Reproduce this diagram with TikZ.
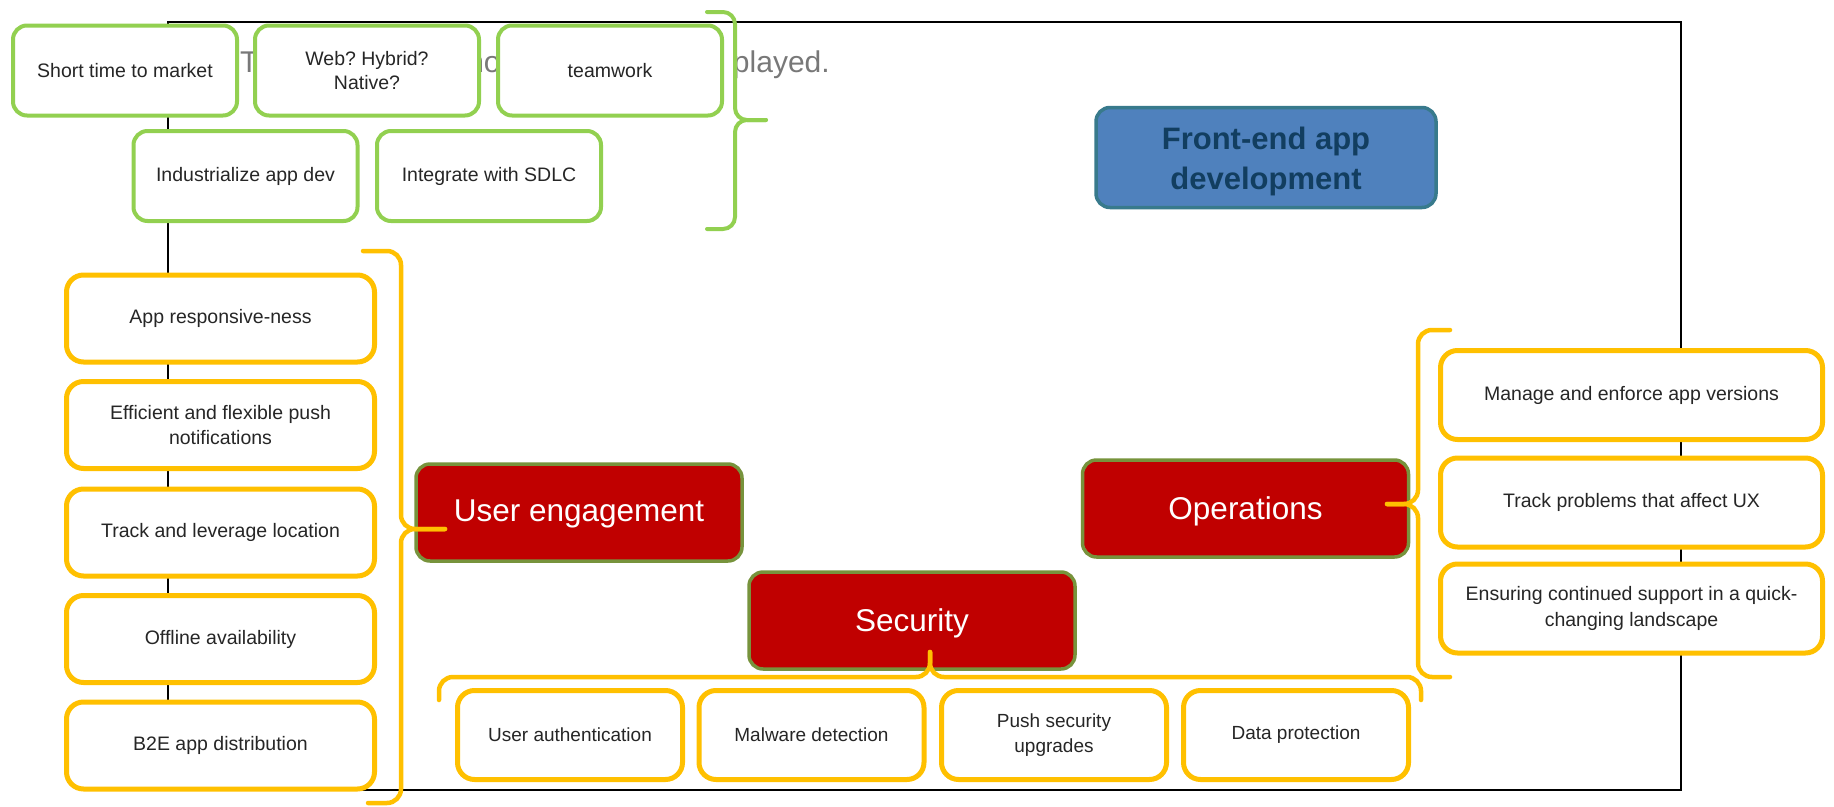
\documentclass[tikz,border=0pt]{standalone}
\usepackage{fontspec}
\setmainfont{Liberation Sans}
\frenchspacing
\definecolor{ggreen}{RGB}{146,208,80}
\definecolor{gold}{RGB}{255,192,0}
\definecolor{dred}{RGB}{192,0,0}
\definecolor{olive}{RGB}{119,147,60}
\definecolor{bfill}{RGB}{79,129,189}
\definecolor{bline}{RGB}{56,122,140}
\definecolor{btext}{RGB}{18,62,96}
\definecolor{txt}{RGB}{38,38,38}
\definecolor{ttl}{RGB}{120,120,120}
\tikzset{
 gbox/.style={draw=ggreen, line width=4pt, rounded corners=14pt, fill=white, minimum width=224pt, minimum height=90pt, align=center, text=txt, font=\fontsize{19.5}{24}\selectfont, inner sep=2pt},
 ybox/.style={draw=gold, line width=5pt, rounded corners=17pt, fill=white, align=center, text=txt, font=\fontsize{19.5}{25.5}\selectfont, inner sep=2pt},
 lbox/.style={ybox, minimum width=308pt, minimum height=87pt},
 rbox/.style={ybox, minimum width=382pt, minimum height=89pt},
 sbox/.style={ybox, minimum width=225pt, minimum height=89pt, font=\fontsize{19}{24.5}\selectfont},
 redbox/.style={draw=olive, line width=3.5pt, rounded corners=14pt, fill=dred, text=white, minimum width=326pt, minimum height=97pt, font=\fontsize{31.5}{36}\selectfont, inner sep=2pt},
 bluebox/.style={draw=bline, line width=3.5pt, rounded corners=14pt, fill=bfill, text=btext, minimum width=340pt, minimum height=100pt, font=\bfseries\fontsize{31}{40}\selectfont, inner sep=2pt},
 gbrace/.style={draw=ggreen, line width=4pt, rounded corners=12pt, line cap=round},
 ybrace/.style={draw=gold, line width=4.5pt, rounded corners=14pt, line cap=round},
}
\begin{document}
\begin{tikzpicture}[x=1pt,y=-1pt]
\useasboundingbox (0,0) rectangle (1834,806);
% frame
\draw[line width=2.5pt] (168,22) rectangle (1681,790);
\node[anchor=base west, text=ttl, font=\fontsize{30}{36}\selectfont, inner sep=0pt] (title) at (240,72) {\spaceskip=25.2pt This video cannot currently be played.};
% green boxes
\node[gbox] (stm) at (125,70.5) {Short time to market};
\node[gbox] (web) at (367,70.5) {Web? Hybrid?\\Native?};
\node[gbox] (team) at (610,70.5) {teamwork};
\node[gbox] (ind) at (245.5,176) {Industrialize app dev};
\node[gbox] (sdlc) at (489,176) {Integrate with SDLC};
% blue
\node[bluebox] (fe) at (1266,157.5) {\raisebox{-4pt}[\height][\depth]{\begin{tabular}{@{}c@{}}Front-end app\\development\end{tabular}}};
% left yellow
\node[lbox] (l1) at (220.5,318.5) {App responsive-ness};
\node[lbox] (l2) at (220.5,425) {Efficient and flexible push\\notifications};
\node[lbox] (l3) at (220.5,532.5) {Track and leverage location};
\node[lbox] (l4) at (220.5,639) {Offline availability};
\node[lbox] (l5) at (220.5,745.5) {B2E app distribution};
% right yellow
\node[rbox] (r1) at (1631.5,395) {Manage and enforce app versions};
\node[rbox] (r2) at (1631.5,502.5) {Track problems that affect UX};
\node[rbox] (r3) at (1631.5,608.5) {Ensuring continued support in a quick-\\changing landscape};
% security boxes
\node[sbox] (s1) at (570,735) {User authentication};
\node[sbox] (s2) at (811.5,735) {Malware detection};
\node[sbox] (s3) at (1054,735) {Push security\\upgrades};
\node[sbox] (s4) at (1296,735) {Data protection};
% red boxes
\node[redbox] (ue) at (579,512.5) {\raisebox{-1pt}[\height][\depth]{User engagement}};
\node[redbox] (ops) at (1245.5,508.5) {\raisebox{-3pt}[\height][\depth]{Operations}};
\node[redbox] (sec) at (912,620.5) {\raisebox{-3pt}[\height][\depth]{Security}};
% braces
\draw[gbrace] (707,12) -- (735,12) -- (735,120) -- (766,120);
\draw[gbrace] (766,120) -- (735,120) -- (735,229) -- (707,229);
\draw[ybrace] (363,251) -- (401,251) -- (401,529) -- (445,529);
\draw[ybrace] (445,529) -- (401,529) -- (401,803) -- (368,803);
\draw[ybrace] (1450,330) -- (1418,330) -- (1418,504) -- (1387,504);
\draw[ybrace] (1387,504) -- (1418,504) -- (1418,677) -- (1450,677);
\draw[ybrace] (439,700) -- (439,677) -- (930,677) -- (930,652);
\draw[ybrace] (930,652) -- (930,677) -- (1421,677) -- (1421,700);
\end{tikzpicture}
\end{document}
